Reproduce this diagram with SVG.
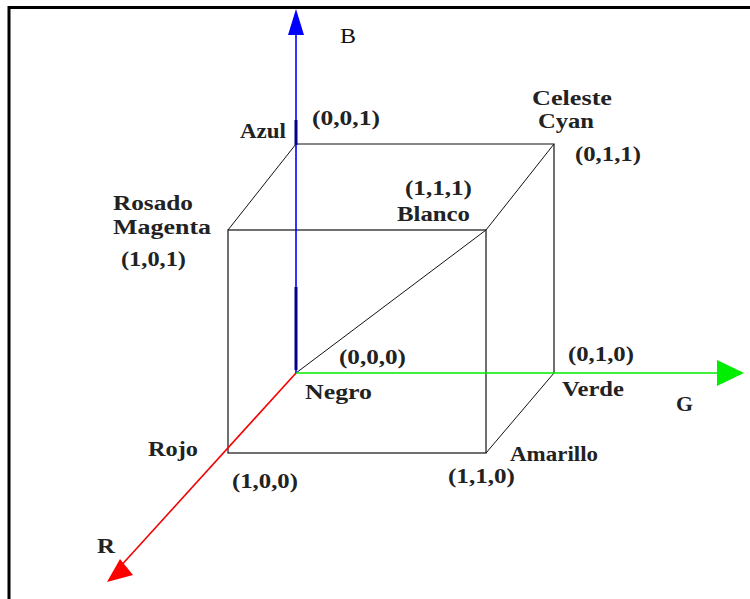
<svg xmlns="http://www.w3.org/2000/svg" width="750" height="599" viewBox="0 0 750 599">
<style>
.t{font-family:"Liberation Serif","Times New Roman",serif;font-weight:bold;font-size:20px;fill:#222}
.edge{stroke:#111;stroke-width:1.2;fill:none}
.dash{stroke:#111;stroke-width:1;fill:none}
</style>
<rect width="750" height="599" fill="#fff"/>
<path d="M9,599 V7.5 H750" fill="none" stroke="#000" stroke-width="3"/>
<g id="connectors">
  <g id="cube">
    <rect class="edge" x="228" y="230" width="258" height="223"/>
    <path class="edge" d="M296,144 H554 V373"/>
    <path class="dash" d="M296,144 L228,230 M554,144 L486,230 M554,373 L486,453 M296,373 L486,230"/>
  </g>
  <g id="axis-b">
    <line x1="296" y1="373" x2="296" y2="34" stroke="#0000ff" stroke-width="1.6"/>
    <line x1="296" y1="287" x2="296" y2="370" stroke="#00008b" stroke-width="3"/>
    <line x1="296" y1="120" x2="296" y2="145" stroke="#00008b" stroke-width="3"/>
    <polygon points="296,9 288,35 304,35" fill="#0000ff"/>
  </g>
  <g id="axis-g">
    <line x1="296" y1="373" x2="720" y2="373" stroke="#00ee00" stroke-width="1.6"/>
    <polygon points="744,373 717,360 717,386" fill="#00ee00"/>
  </g>
  <g id="axis-r">
    <line x1="296" y1="373" x2="118" y2="569" stroke="#ff0000" stroke-width="1.6"/>
    <line x1="296" y1="373" x2="118" y2="569" stroke="#333" stroke-width="0.8" stroke-dasharray="1 5"/>
    <polygon points="107,582 120,559 133,575" fill="#ff0000"/>
  </g>
</g>
<g id="labels">
  <text x="340" y="43" font-family="Liberation Serif, serif" font-size="20" fill="#111" textLength="16" lengthAdjust="spacingAndGlyphs">B</text>
  <text class="t" x="676" y="411" textLength="17" lengthAdjust="spacingAndGlyphs">G</text>
  <text class="t" x="97" y="553" textLength="18" lengthAdjust="spacingAndGlyphs">R</text>
  <g id="n001"><text class="t" x="240" y="138" textLength="46" lengthAdjust="spacingAndGlyphs">Azul</text><text class="t" x="312" y="125" textLength="68" lengthAdjust="spacingAndGlyphs">(0,0,1)</text></g>
  <g id="n011"><text class="t" x="532" y="105" textLength="80" lengthAdjust="spacingAndGlyphs">Celeste</text><text class="t" x="538" y="128" textLength="56" lengthAdjust="spacingAndGlyphs">Cyan</text><text class="t" x="575" y="161" textLength="66" lengthAdjust="spacingAndGlyphs">(0,1,1)</text></g>
  <g id="n101"><text class="t" x="113" y="210" textLength="80" lengthAdjust="spacingAndGlyphs">Rosado</text><text class="t" x="113" y="234" textLength="98" lengthAdjust="spacingAndGlyphs">Magenta</text><text class="t" x="121" y="266" textLength="65" lengthAdjust="spacingAndGlyphs">(1,0,1)</text></g>
  <g id="n111"><text class="t" x="405" y="195" textLength="67" lengthAdjust="spacingAndGlyphs">(1,1,1)</text><text class="t" x="397" y="221" textLength="73" lengthAdjust="spacingAndGlyphs">Blanco</text></g>
  <g id="n000"><text class="t" x="339" y="364" textLength="67" lengthAdjust="spacingAndGlyphs">(0,0,0)</text><text class="t" x="305" y="399" textLength="67" lengthAdjust="spacingAndGlyphs">Negro</text></g>
  <g id="n010"><text class="t" x="568" y="361" textLength="66" lengthAdjust="spacingAndGlyphs">(0,1,0)</text><text class="t" x="562" y="396" textLength="62" lengthAdjust="spacingAndGlyphs">Verde</text></g>
  <g id="n100"><text class="t" x="148" y="456" textLength="50" lengthAdjust="spacingAndGlyphs">Rojo</text><text class="t" x="232" y="488" textLength="66" lengthAdjust="spacingAndGlyphs">(1,0,0)</text></g>
  <g id="n110"><text class="t" x="510" y="461" textLength="88" lengthAdjust="spacingAndGlyphs">Amarillo</text><text class="t" x="448" y="483" textLength="67" lengthAdjust="spacingAndGlyphs">(1,1,0)</text></g>
</g>
</svg>
